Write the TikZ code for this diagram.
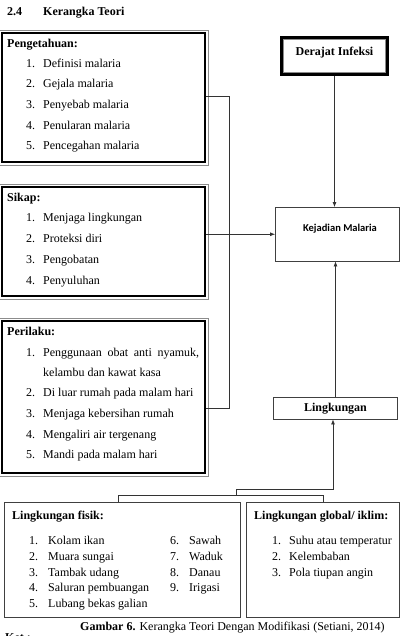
\documentclass[tikz,border=0pt]{standalone}
\usepackage{fontspec}
\setmainfont{Liberation Serif}
\newfontfamily\calib{Carlito}
\usetikzlibrary{arrows.meta}
\begin{document}
\begin{tikzpicture}[x=1pt,y=-1pt,
  every node/.style={font=\fontsize{12}{14}\selectfont, inner sep=0pt},
  txt/.style={anchor=base west},
  hd/.style={anchor=base west, font=\fontsize{12}{14}\selectfont\bfseries},
  thickframe/.style={draw=black, line width=2.3pt, inner sep=0pt},
  plainbox/.style={draw=black!75, line width=0.8pt, inner sep=0pt},
  conn/.style={draw=black!80, line width=0.8pt},
  arr/.style={conn, -{Latex[length=5pt,width=4pt]}},
  shade/.style={draw=black!45, line width=0.6pt}
]
\useasboundingbox (0,0) rectangle (400,636);

% title
\node[hd] (tnum) at (7,16) {2.4};
\node[hd] (ttl) at (43,16) {Kerangka Teori};

% ---------- left framed boxes ----------
\node[thickframe, minimum width=203pt, minimum height=129pt] (pk) at (103.5,97.5) {};
\node[thickframe, minimum width=203pt, minimum height=109pt] (sk) at (103.5,241.5) {};
\node[thickframe, minimum width=203pt, minimum height=152pt] (pr) at (103.5,397) {};
\foreach \b in {pk,sk,pr}{
  \draw[shade] ([shift={(-1.6pt,1.6pt)}]\b.north west) rectangle ([shift={(2.4pt,-2.4pt)}]\b.south east);
}

% Pengetahuan
\node[hd] (pkh) at (7,48) {Pengetahuan:};
\node[txt] (pk1n) at (26,68) {1.};  \node[txt] (pk1) at (43,68) {Definisi malaria};
\node[txt] (pk2n) at (26,88) {2.};  \node[txt] (pk2) at (43,88) {Gejala malaria};
\node[txt] (pk3n) at (26,109) {3.}; \node[txt] (pk3) at (43,109) {Penyebab malaria};
\node[txt] (pk4n) at (26,130) {4.}; \node[txt] (pk4) at (43,130) {Penularan malaria};
\node[txt] (pk5n) at (26,150) {5.}; \node[txt] (pk5) at (43,150) {Pencegahan malaria};

% Sikap
\node[hd] (skh) at (7,201) {Sikap:};
\node[txt] (sk1n) at (26,222) {1.}; \node[txt] (sk1) at (43,222) {Menjaga lingkungan};
\node[txt] (sk2n) at (26,242) {2.}; \node[txt] (sk2) at (43,242) {Proteksi diri};
\node[txt] (sk3n) at (26,263) {3.}; \node[txt] (sk3) at (43,263) {Pengobatan};
\node[txt] (sk4n) at (26,284) {4.}; \node[txt] (sk4) at (43,284) {Penyuluhan};

% Perilaku
\node[hd] (prh) at (7,335) {Perilaku:};
\node[txt] (pr1n) at (26,356) {1.}; \node[txt] (pr1) at (43,356) {\makebox[156pt][s]{Penggunaan obat anti nyamuk,}};
\node[txt] (pr1b) at (43,376) {kelambu dan kawat kasa};
\node[txt] (pr2n) at (26,396) {2.}; \node[txt] (pr2) at (43,396) {Di luar rumah pada malam hari};
\node[txt] (pr3n) at (26,417) {3.}; \node[txt] (pr3) at (43,417) {Menjaga kebersihan rumah};
\node[txt] (pr4n) at (26,438) {4.}; \node[txt] (pr4) at (43,438) {Mengaliri air tergenang};
\node[txt] (pr5n) at (26,458) {5.}; \node[txt] (pr5) at (43,458) {Mandi pada malam hari};

% ---------- right boxes ----------
\node[thickframe, minimum width=106pt, minimum height=37pt] (di) at (334.5,56) {};
\draw[shade] ([shift={(3pt,-3pt)}]di.north west) rectangle ([shift={(-3pt,3pt)}]di.south east);
\node[hd, anchor=center] (dit) at (334.5,53) {Derajat Infeksi};

\node[plainbox, minimum width=124pt, minimum height=53.5pt] (kj) at (337.5,234.25) {};
\node[anchor=center, font=\calib\fontsize{10.5}{12}\selectfont\bfseries] (kjt) at (340,229) {Kejadian Malaria};

\node[plainbox, minimum width=124pt, minimum height=21.5pt] (lk) at (335.5,408.25) {};
\node[hd, anchor=center] (lkt) at (335.5,408.5) {Lingkungan};

% ---------- bottom boxes ----------
\node[plainbox, minimum width=235.5pt, minimum height=114.5pt] (lf) at (122.25,559.75) {};
\node[plainbox, minimum width=153pt, minimum height=114.5pt] (lg) at (323,559.75) {};

\node[hd] (lfh) at (12,519) {Lingkungan fisik:};
\node[txt] (lf1n) at (29,544) {1.}; \node[txt] (lf1) at (48,544) {Kolam ikan};
\node[txt] (lf2n) at (29,560) {2.}; \node[txt] (lf2) at (48,560) {Muara sungai};
\node[txt] (lf3n) at (29,576) {3.}; \node[txt] (lf3) at (48,576) {Tambak udang};
\node[txt] (lf4n) at (29,591) {4.}; \node[txt] (lf4) at (48,591) {Saluran pembuangan};
\node[txt] (lf5n) at (29,607) {5.}; \node[txt] (lf5) at (48,607) {Lubang bekas galian};
\node[txt] (lf6n) at (170,544) {6.}; \node[txt] (lf6) at (189,544) {Sawah};
\node[txt] (lf7n) at (170,560) {7.}; \node[txt] (lf7) at (189,560) {Waduk};
\node[txt] (lf8n) at (170,576) {8.}; \node[txt] (lf8) at (189,576) {Danau};
\node[txt] (lf9n) at (170,591) {9.}; \node[txt] (lf9) at (189,591) {Irigasi};

\node[hd] (lgh) at (254,519) {Lingkungan global/ iklim:};
\node[txt] (lg1n) at (272,544) {1.}; \node[txt] (lg1) at (289,544) {Suhu atau temperatur};
\node[txt] (lg2n) at (272,560) {2.}; \node[txt] (lg2) at (289,560) {Kelembaban};
\node[txt] (lg3n) at (272,576) {3.}; \node[txt] (lg3) at (289,576) {Pola tiupan angin};

% caption
\node[txt] (cap) at (80,630) {\textbf{Gambar 6.} Kerangka Teori Dengan Modifikasi (Setiani, 2014)};
\node[hd] (ket) at (5,641) {Ket :};

% ---------- connectors ----------
\coordinate (jA) at (229,96);
\coordinate (jB) at (229,408);
\draw[conn] (pk.east |- jA) -- (jA) -- (jB) -- (jB -| pr.east);
\draw[arr] (kj.west -| sk.east) -- (kj.west);
\draw[arr] (di.south) -- (di.south |- kj.north);
\draw[arr] (lk.north) -- (lk.north |- kj.south);

\coordinate (b1) at (333,489);
\coordinate (b2) at (236,489);
\coordinate (b3) at (236,495);
\coordinate (b4) at (118,495);
\coordinate (b5) at (323,495);
\draw[arr] (b2) -- (b1) -- (b1 |- lk.south);
\draw[conn] (b2) -- (b3);
\draw[conn] (b4 |- lf.north) -- (b4) -- (b5) -- (b5 |- lg.north);
\end{tikzpicture}
\end{document}
